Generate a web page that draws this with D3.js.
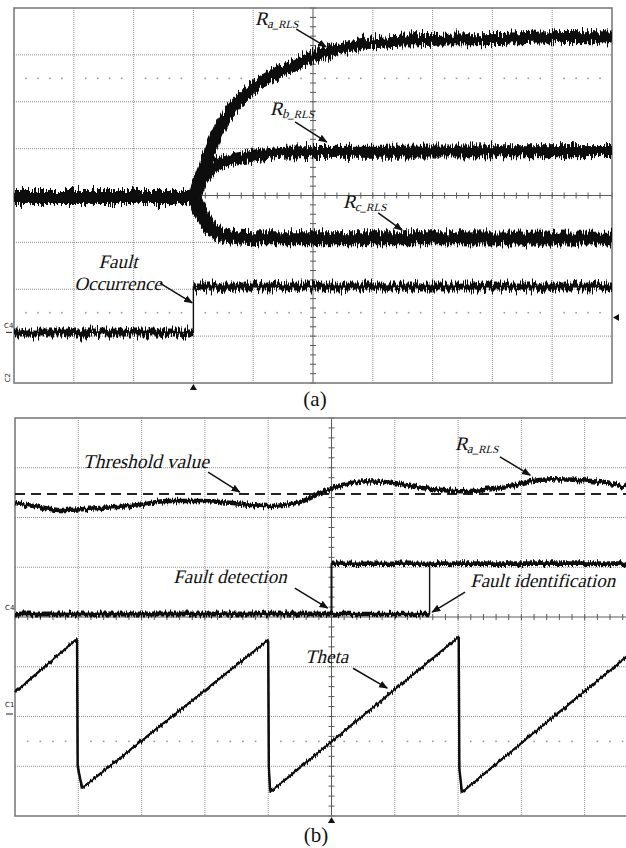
<!DOCTYPE html>
<meta charset="utf-8">
<style>
  body { margin: 0; background: #fff; }
  .grid { stroke: #8c8c8c; stroke-width: 1; stroke-dasharray: 1,1; }
  .frame { fill: none; stroke: #7c7c7c; stroke-width: 1.6; }
  .center { stroke: #5a5a5a; stroke-width: 1; }
  .dots { fill: #9a9a9a; }
  .trace { fill: none; stroke: #111; stroke-linejoin: round; stroke-linecap: butt; }
  .note { font-family: "Liberation Serif", "Times New Roman", serif; fill: #111; }
  .cap { font-family: "Liberation Serif", "Times New Roman", serif; font-size: 21px; fill: #111; }
  .chan { font-family: "DejaVu Sans", sans-serif; font-size: 7px; fill: #222; }
  .arrow { stroke: #111; stroke-width: 1.5; }
</style>
<svg width="626" height="848"></svg>
<script src="https://d3js.org/d3.v7.min.js"></script>
<script>

  // ---- data (units: divisions from centre) ----

  // panel (a): fault occurs at -2 div
  var raTime  = [-5, -2, -1.95, -1.89, -1.84, -1.56, -1.34, -1.0, -0.67, -0.33, 0, 0.33, 0.9, 1.45, 2.01, 3.13, 4.25, 5];
  var raValue = [-0.03, -0.03, 0.2, 0.37, 0.54, 1.44, 1.87, 2.29, 2.57, 2.78, 2.97, 3.10, 3.25, 3.30, 3.32, 3.34, 3.38, 3.37];

  var rbTime  = [-5, -2, -1.89, -1.84, -1.56, -1.34, -1.0, -0.33, 0, 5];
  var rbValue = [-0.03, -0.03, 0.25, 0.36, 0.69, 0.77, 0.85, 0.92, 0.93, 0.95];

  var rcTime  = [-5, -2, -1.89, -1.77, -1.67, -1.44, -1.0, 0, 5];
  var rcValue = [-0.03, -0.03, -0.33, -0.59, -0.75, -0.86, -0.91, -0.91, -0.92];

  var faultTime  = [-5, -2, -2, 5];
  var faultValue = [-2.92, -2.92, -1.94, -1.94];

  // panel (b)
  var thresholdValue = 2.47;

  var rlsTime  = [-5, -4.61, -4.29, -3.66, -3.03, -2.60, -2.08, -1.56, -1.02, -0.50, -0.34, -0.18, 0,
                  0.29, 0.56, 1.02, 1.35, 1.60, 2.03, 2.39, 2.77, 3.14, 3.50, 3.97, 4.35, 4.66, 5];
  var rlsValue = [2.29, 2.21, 2.15, 2.19, 2.25, 2.33, 2.33, 2.29, 2.23, 2.31, 2.39, 2.49, 2.59,
                  2.69, 2.73, 2.69, 2.61, 2.57, 2.53, 2.55, 2.61, 2.73, 2.77, 2.75, 2.69, 2.61, 2.53];

  var detectTime  = [-5, 0, 0, 5];
  var detectValue = [0.06, 0.06, 1.07, 1.07];

  var identTime  = [-5, 1.55, 1.55, 5];
  var identValue = [0.06, 0.06, 1.07, 1.07];

  var thetaTime  = [-5, -4.02, -4.01, -3.94, -1.0, -0.99, -0.97, 2.01, 2.02, 2.06, 4.66, 5];
  var thetaValue = [-1.51, -0.44, -3.0, -3.44, -0.46, -3.0, -3.52, -0.40, -3.05, -3.52, -0.80, -0.45];

  // ---- setup ----
  var svg = d3.select("svg");

  var defs = svg.append("defs");
  // scope-like trace fuzz (style only, the data is untouched)
  function fuzz(id, amount, seed) {
    var f = defs.append("filter").attr("id", id)
      .attr("filterUnits", "userSpaceOnUse")
      .attr("x", 0).attr("y", 0).attr("width", 626).attr("height", 848);
    f.append("feTurbulence").attr("type", "fractalNoise")
      .attr("baseFrequency", "0.8 0.04").attr("numOctaves", 2).attr("seed", seed).attr("result", "n");
    f.append("feColorMatrix").attr("in", "n").attr("type", "matrix")
      .attr("values", "0 0 0 0 0.5  0 1 0 0 0  0 0 0 0 0  0 0 0 0 1").attr("result", "m");
    f.append("feDisplacementMap").attr("in", "SourceGraphic").attr("in2", "m")
      .attr("scale", amount).attr("xChannelSelector", "R").attr("yChannelSelector", "G");
  }
  fuzz("fuzzA", 16, 3);
  fuzz("fuzzB", 7, 5);

  var marker = defs.append("marker").attr("id", "head")
    .attr("viewBox", "0 0 10 10").attr("refX", 9).attr("refY", 5)
    .attr("markerWidth", 9).attr("markerHeight", 9).attr("markerUnits", "userSpaceOnUse")
    .attr("orient", "auto");
  marker.append("path").attr("d", "M0,1 L10,5 L0,9 Z").attr("fill", "#111");

  var xA = d3.scaleLinear().domain([-5, 5]).range([14, 612]);
  var yA = d3.scaleLinear().domain([-4, 4]).range([383, 8]);
  var xB = d3.scaleLinear().domain([-5, 5]).range([15, 648]);
  var yB = d3.scaleLinear().domain([-4, 4]).range([816, 418]);

  // graticule: dotted grid, solid centre lines with minor ticks, dotted cursor rows
  function screen(g, x, y, cursorRows) {
    var x0 = x.range()[0], x1 = x.range()[1], y0 = y.range()[1], y1 = y.range()[0];
    var minor = d3.range(-25, 26).map(function (i) { return i / 5; });

    g.selectAll(".gv").data(d3.range(-4, 5).filter(function (d) { return d !== 0; }))
      .enter().append("line").attr("class", "grid")
      .attr("x1", x).attr("x2", x).attr("y1", y0).attr("y2", y1);
    g.selectAll(".gh").data(d3.range(-3, 4).filter(function (d) { return d !== 0; }))
      .enter().append("line").attr("class", "grid")
      .attr("y1", y).attr("y2", y).attr("x1", x0).attr("x2", x1);

    cursorRows.forEach(function (r) {
      g.selectAll(null).data(minor.filter(function (d) { return Math.abs(d - Math.round(d)) > 0.01; }))
        .enter().append("rect").attr("class", "dots")
        .attr("x", function (d) { return x(d) - 0.8; }).attr("y", y(r) - 0.8)
        .attr("width", 1.6).attr("height", 1.6);
    });

    g.append("line").attr("class", "center").attr("x1", x(0)).attr("x2", x(0)).attr("y1", y0).attr("y2", y1);
    g.append("line").attr("class", "center").attr("y1", y(0)).attr("y2", y(0)).attr("x1", x0).attr("x2", x1);
    g.selectAll(null).data(minor).enter().append("line").attr("class", "center")
      .attr("x1", x).attr("x2", x).attr("y1", y(0) - 3).attr("y2", y(0) + 3);
    g.selectAll(null).data(d3.range(-20, 21).map(function (i) { return i / 5; })).enter()
      .append("line").attr("class", "center")
      .attr("y1", y).attr("y2", y).attr("x1", x(0) - 3).attr("x2", x(0) + 3);

    g.append("rect").attr("class", "frame")
      .attr("x", x0).attr("y", y0).attr("width", x1 - x0).attr("height", y1 - y0);
  }

  function pairs(t, v) { return d3.zip(t, v); }

  function smooth(g, x, y, t, v, w, filt) {
    g.append("path").attr("class", "trace")
      .attr("d", d3.line().x(function (d) { return x(d[0]); }).y(function (d) { return y(d[1]); })
        .curve(d3.curveMonotoneX)(pairs(t, v)))
      .attr("stroke-width", w)
      .attr("filter", "url(#" + filt + ")");
  }

  // thin full trace, thicker where the level is flat
  function stepped(g, x, y, t, v, w, thin, filt) {
    var pts = pairs(t, v);
    var line = d3.line().x(function (d) { return x(d[0]); }).y(function (d) { return y(d[1]); });
    g.append("path").attr("class", "trace").attr("d", line(pts)).attr("stroke-width", thin);
    var flat = [];
    for (var i = 0; i < pts.length - 1; i++) {
      if (pts[i][0] !== pts[i + 1][0]) flat.push([pts[i], pts[i + 1]]);
    }
    g.selectAll(null).data(flat).enter().append("path").attr("class", "trace")
      .attr("d", line).attr("stroke-width", w)
      .attr("filter", "url(#" + filt + ")");
  }

  function arrow(g, x, y, a, b) {
    g.append("line").attr("class", "arrow")
      .attr("x1", x(a[0])).attr("y1", y(a[1])).attr("x2", x(b[0])).attr("y2", y(b[1]))
      .attr("marker-end", "url(#head)");
  }

  // slanted serif text (Times-like italic)
  function note(g, x, y, at, text, size, anchor) {
    return g.append("text").attr("class", "note")
      .attr("transform", "translate(" + x(at[0]) + "," + y(at[1]) + ") skewX(-14)")
      .attr("text-anchor", anchor || "start")
      .style("font-size", size + "px").text(text);
  }

  function rlsLabel(g, x, y, at, sub) {
    var t = note(g, x, y, at, "", 19).text(null);
    t.append("tspan").text("R");
    t.append("tspan").attr("dy", 3).style("font-size", "13px").text(sub);
    t.append("tspan").style("font-size", "11px").text("_RLS");
  }

  function trigger(g, px, py, rot) {
    g.append("path").attr("d", "M-3.5,3 L0,-3 L3.5,3 Z").attr("fill", "#111")
      .attr("transform", "translate(" + px + "," + py + ") rotate(" + rot + ")");
  }

  // ---- panel (a) ----
  var gA = svg.append("g");
  screen(gA, xA, yA, [2.5, -2.5]);

  smooth(gA, xA, yA, rcTime, rcValue, 14, "fuzzA");
  smooth(gA, xA, yA, rbTime, rbValue, 12, "fuzzA");
  smooth(gA, xA, yA, raTime, raValue, 12, "fuzzA");
  stepped(gA, xA, yA, faultTime, faultValue, 8, 1.4, "fuzzA");

  rlsLabel(gA, xA, yA, [-0.97, 3.64], "a");
  arrow(gA, xA, yA, [-0.28, 3.55], [0.22, 3.17]);
  rlsLabel(gA, xA, yA, [-0.72, 1.72], "b");
  arrow(gA, xA, yA, [-0.30, 1.57], [0.23, 1.14]);
  rlsLabel(gA, xA, yA, [0.50, -0.27], "c");
  arrow(gA, xA, yA, [1.09, -0.37], [1.49, -0.74]);

  note(gA, xA, yA, [-3.26, -1.55], "Fault", 19, "middle");
  note(gA, xA, yA, [-3.26, -2.01], "Occurrence", 19, "middle");
  arrow(gA, xA, yA, [-2.56, -1.87], [-2.02, -2.29]);

  gA.append("text").attr("class", "chan").attr("x", 4).attr("y", yA(-2.82)).text("C4");
  gA.append("line").attr("stroke", "#222").attr("x1", 6).attr("x2", 12).attr("y1", yA(-2.92)).attr("y2", yA(-2.92));
  gA.append("text").attr("class", "chan").attr("x", 4).attr("y", yA(-3.95))
    .attr("transform", "rotate(-90," + 8 + "," + yA(-3.9) + ")").text("C2");
  trigger(gA, xA(-2), yA(-4) + 4, 0);
  trigger(gA, xA(5) + 4, yA(-2.6), -90);

  svg.append("text").attr("class", "cap").attr("text-anchor", "middle")
    .attr("x", 315).attr("y", 406).text("(a)");

  // ---- panel (b) ----
  var gB = svg.append("g");
  screen(gB, xB, yB, [-2.5]);

  gB.append("line").attr("stroke", "#222").attr("stroke-width", 2).attr("stroke-dasharray", "10,6")
    .attr("x1", xB(-5)).attr("x2", xB(5)).attr("y1", yB(thresholdValue)).attr("y2", yB(thresholdValue));

  smooth(gB, xB, yB, rlsTime, rlsValue, 4.5, "fuzzB");
  stepped(gB, xB, yB, identTime, identValue, 4.5, 1.4, "fuzzB");
  stepped(gB, xB, yB, detectTime, detectValue, 4.5, 2, "fuzzB");
  stepped(gB, xB, yB, thetaTime, thetaValue, 2.4, 1.6, "fuzzB");

  note(gB, xB, yB, [-3.93, 2.99], "Threshold value", 19.5);
  arrow(gB, xB, yB, [-1.95, 2.91], [-1.45, 2.51]);
  rlsLabel(gB, xB, yB, [1.95, 3.36], "a");
  arrow(gB, xB, yB, [2.66, 3.22], [3.14, 2.85]);
  note(gB, xB, yB, [-2.50, 0.68], "Fault detection", 19);
  arrow(gB, xB, yB, [-0.58, 0.58], [-0.06, 0.18]);
  note(gB, xB, yB, [2.19, 0.60], "Fault identification", 19);
  arrow(gB, xB, yB, [2.11, 0.50], [1.59, 0.10]);
  note(gB, xB, yB, [-0.42, -0.92], "Theta", 19);
  arrow(gB, xB, yB, [0.34, -1.03], [0.88, -1.43]);

  gB.append("text").attr("class", "chan").attr("x", 5).attr("y", yB(-1.8)).text("C1");
  gB.append("line").attr("stroke", "#222").attr("x1", 6).attr("x2", 13).attr("y1", yB(-1.95)).attr("y2", yB(-1.95));
  gB.append("text").attr("class", "chan").attr("x", 5).attr("y", yB(0.15)).text("C4");
  trigger(gB, xB(0), yB(-4) + 4, 0);

  svg.append("text").attr("class", "cap").attr("text-anchor", "middle")
    .attr("x", 316).attr("y", 842).text("(b)");

</script>
